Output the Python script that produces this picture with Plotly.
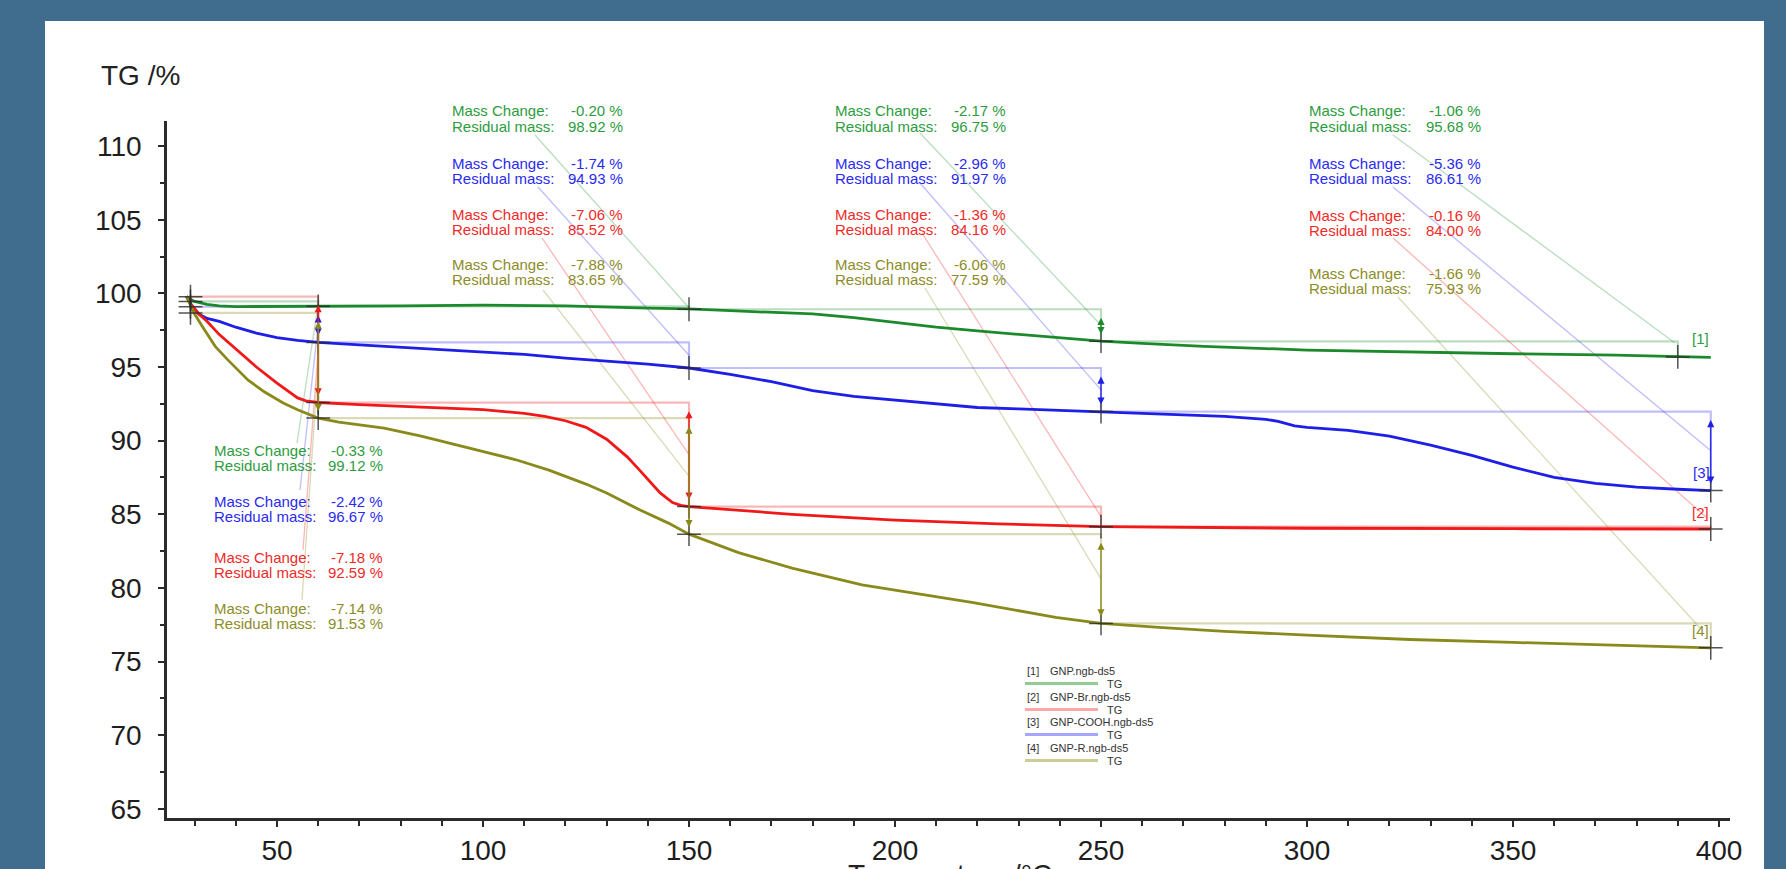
import plotly.graph_objects as go

# ---------------- data ----------------
green_T = [28, 30, 33, 36, 40, 50, 60, 80, 100, 120, 140, 150, 160, 170, 180, 190, 200, 210, 220, 230, 240, 250, 260, 275, 300, 325, 350, 375, 398]
green_TG = [99.75, 99.45, 99.25, 99.15, 99.1, 99.1, 99.12, 99.15, 99.2, 99.15, 99.0, 98.95, 98.82, 98.72, 98.6, 98.35, 98.0, 97.7, 97.45, 97.2, 96.95, 96.75, 96.6, 96.4, 96.15, 96.0, 95.9, 95.8, 95.65]

red_T = [28, 29, 31, 33, 36, 40, 45, 50, 55, 57, 60, 70, 80, 90, 100, 110, 115, 120, 125, 130, 135, 138, 140, 143, 146, 148, 150, 160, 175, 200, 225, 250, 275, 300, 350, 398]
red_TG = [99.8, 99.3, 98.6, 98.1, 97.2, 96.2, 95.0, 93.9, 92.9, 92.7, 92.59, 92.45, 92.35, 92.2, 92.1, 91.85, 91.65, 91.35, 90.9, 90.1, 88.9, 88.0, 87.4, 86.45, 85.8, 85.6, 85.52, 85.3, 85.0, 84.6, 84.35, 84.16, 84.1, 84.05, 84.02, 84.0]

blue_T = [28, 29, 31, 33, 36, 40, 45, 50, 55, 60, 70, 80, 90, 100, 110, 120, 130, 140, 150, 160, 170, 180, 190, 200, 210, 220, 230, 240, 250, 260, 270, 280, 290, 293, 297, 300, 310, 320, 330, 340, 350, 360, 370, 380, 390, 398]
blue_TG = [99.8, 99.3, 98.6, 98.3, 98.1, 97.7, 97.3, 97.0, 96.8, 96.67, 96.5, 96.35, 96.2, 96.05, 95.85, 95.6, 95.4, 95.2, 94.93, 94.5, 94.0, 93.4, 93.0, 92.75, 92.45, 92.25, 92.15, 92.05, 91.97, 91.9, 91.8, 91.65, 91.45, 91.3, 91.0, 90.9, 90.7, 90.3, 89.7, 89.0, 88.2, 87.5, 87.1, 86.85, 86.7, 86.61]

olive_T = [28, 30, 32, 35, 38, 43, 47, 51.5, 55, 58, 60, 65, 70, 76, 85, 92, 100, 108, 116, 125, 130, 138, 145, 150, 162, 175, 192, 205, 219, 239, 250, 265, 280, 300, 325, 350, 375, 398]
olive_TG = [99.8, 98.6, 97.7, 96.4, 95.5, 94.1, 93.3, 92.55, 92.1, 91.75, 91.53, 91.25, 91.05, 90.85, 90.3, 89.8, 89.25, 88.7, 88.0, 87.05, 86.45, 85.3, 84.4, 83.65, 82.4, 81.35, 80.2, 79.6, 79.0, 78.0, 77.59, 77.3, 77.05, 76.8, 76.5, 76.3, 76.1, 75.93]

# step evaluation (four temperature intervals)
step_start_T = [29, 60, 150, 250]
step_end_T = [60, 150, 250, 398]
green_step_end_T = [60, 150, 250, 390]

green_mass_change = [-0.33, -0.20, -2.17, -1.06]
green_residual = [99.12, 98.92, 96.75, 95.68]
blue_mass_change = [-2.42, -1.74, -2.96, -5.36]
blue_residual = [96.67, 94.93, 91.97, 86.61]
red_mass_change = [-7.18, -7.06, -1.36, -0.16]
red_residual = [92.59, 85.52, 84.16, 84.00]
olive_mass_change = [-7.14, -7.88, -6.06, -1.66]
olive_residual = [91.53, 83.65, 77.59, 75.93]

legend_ids = ["[1]", "[2]", "[3]", "[4]"]
legend_names = ["GNP.ngb-ds5", "GNP-Br.ngb-ds5", "GNP-COOH.ngb-ds5", "GNP-R.ngb-ds5"]

x_ticks = [50, 100, 150, 200, 250, 300, 350, 400]
y_ticks = [65, 70, 75, 80, 85, 90, 95, 100, 105, 110]

# ---------------- layout geometry ----------------
W, H = 1786, 869
PL, PR, PT, PB = 167, 1730, 121, 818
X0, X1 = 23.3, 402.67
Y0, Y1 = 64.38, 111.70
FONT = "Liberation Sans, Arial, sans-serif"


def px2x(px):
    return X0 + (px - PL) / (PR - PL) * (X1 - X0)


def py2y(py):
    return Y1 - (py - PT) / (PB - PT) * (Y1 - Y0)


def pxp(px):
    return (px - PL) / (PR - PL)


def pyp(py):
    return (PB - py) / (PB - PT)


series = [
    dict(T=green_T, TG=green_TG, mc=green_mass_change, res=green_residual, ends=green_step_end_T,
         col="#1c8a2c", tcol="#2d9c3e", light="rgba(40,150,60,0.32)", leg="rgba(120,190,120,0.8)"),
    dict(T=blue_T, TG=blue_TG, mc=blue_mass_change, res=blue_residual, ends=step_end_T,
         col="#1e1ee6", tcol="#2a2af0", light="rgba(40,40,240,0.30)", leg="rgba(150,150,255,0.85)"),
    dict(T=red_T, TG=red_TG, mc=red_mass_change, res=red_residual, ends=step_end_T,
         col="#f01818", tcol="#f02a2a", light="rgba(240,30,30,0.32)", leg="rgba(255,150,150,0.85)"),
    dict(T=olive_T, TG=olive_TG, mc=olive_mass_change, res=olive_residual, ends=step_end_T,
         col="#8a8a1c", tcol="#8c8c28", light="rgba(140,140,30,0.32)", leg="rgba(195,195,130,0.85)"),
]

# text block placement (pixels)
block_left = [212, 450, 833, 1307]
block_right = [385, 625, 1008, 1483]
block_y = [
    [450, 501, 557, 608],
    [111, 163, 214, 264],
    [111, 163, 214, 264],
    [111, 163, 215, 273],
]
line_gap = 15.5
leader_start = [
    [(297, 443), (300, 490), (303, 550), (302, 600)],
    [(535, 135), (538, 187), (542, 238), (543, 290)],
    [(920, 133), (920, 183), (922, 233), (925, 288)],
    [(1393, 135), (1393, 187), (1393, 238), (1398, 297)],
]
last_leader_end = [(1675, 343), (1710, 450), (1707, 518), (1700, 628)]
end_label_pos = [(1711, 338), (1711, 512), (1712, 472), (1711, 630)]  # [1],[2],[3],[4]

fig = go.Figure()
annotations = []
shapes = []

for si, s in enumerate(series):
    for k in range(4):
        start_val = round(s["res"][k] - s["mc"][k], 2)
        end_val = s["res"][k]
        xs, xe = step_start_T[k], s["ends"][k]
        fig.add_trace(go.Scatter(x=[xs, xe, xe], y=[start_val, start_val, end_val], mode="lines",
                                 line=dict(color=s["light"], width=2.2), hoverinfo="skip", showlegend=False))
        lx, ly = leader_start[k][si]
        if k < 3:
            ex, ey = xe, (start_val + end_val) / 2
        else:
            ex, ey = px2x(last_leader_end[si][0]), py2y(last_leader_end[si][1])
        fig.add_trace(go.Scatter(x=[px2x(lx), ex], y=[py2y(ly), ey], mode="lines",
                                 line=dict(color=s["light"], width=1.3), hoverinfo="skip", showlegend=False))
        if abs(s["mc"][k]) >= 2.0:
            annotations.append(dict(x=xe, y=end_val, ax=xe, ay=start_val, xref="x", yref="y",
                                    axref="x", ayref="y", text="", showarrow=True,
                                    arrowhead=2, startarrowhead=2, arrowside="end+start",
                                    arrowsize=1.1, arrowwidth=1.3, arrowcolor=s["col"],
                                    standoff=7, startstandoff=7))
        y1p = block_y[k][si]
        y2p = y1p + line_gap
        for yy, lab, val in [(y1p, "Mass Change:", f"{s['mc'][k]:.2f} %"),
                             (y2p, "Residual mass:", f"{s['res'][k]:.2f} %")]:
            annotations.append(dict(x=pxp(block_left[k]), y=pyp(yy), xref="paper", yref="paper",
                                    text=lab, showarrow=False, xanchor="left", yanchor="middle",
                                    font=dict(family=FONT, size=15, color=s["tcol"])))
            annotations.append(dict(x=pxp(block_right[k]), y=pyp(yy), xref="paper", yref="paper",
                                    text=val, showarrow=False, xanchor="right", yanchor="middle",
                                    font=dict(family=FONT, size=15, color=s["tcol"])))

for s in series:
    fig.add_trace(go.Scatter(x=s["T"], y=s["TG"], mode="lines",
                             line=dict(color=s["col"], width=2.8), hoverinfo="skip", showlegend=False))

cx, cy = [], []
for s in series:
    for k in range(4):
        if k == 0:
            cx.append(step_start_T[0])
            cy.append(round(s["res"][0] - s["mc"][0], 2))
        cx.append(s["ends"][k])
        cy.append(s["res"][k])
fig.add_trace(go.Scatter(x=cx, y=cy, mode="markers", hoverinfo="skip", showlegend=False,
                         marker=dict(symbol="cross-thin", size=17,
                                     line=dict(color="rgba(40,40,40,0.8)", width=1.5))))

label_series = [0, 2, 1, 3]
for j, (lx, ly) in enumerate(end_label_pos):
    s = series[label_series[j]]
    annotations.append(dict(x=pxp(lx), y=pyp(ly), xref="paper", yref="paper", text=legend_ids[j],
                            showarrow=False, xanchor="right", yanchor="middle",
                            font=dict(family=FONT, size=15, color=s["tcol"])))

leg_x = 1025
leg_rows = [671, 697, 722, 748]
leg_series = [0, 2, 1, 3]
for j in range(4):
    ry = leg_rows[j]
    annotations.append(dict(x=pxp(leg_x), y=pyp(ry), xref="paper", yref="paper", text=legend_ids[j],
                            showarrow=False, xanchor="left", yanchor="middle",
                            font=dict(family=FONT, size=11, color="#333")))
    annotations.append(dict(x=pxp(leg_x + 23), y=pyp(ry), xref="paper", yref="paper",
                            text=legend_names[j], showarrow=False, xanchor="left", yanchor="middle",
                            font=dict(family=FONT, size=11, color="#333")))
    shapes.append(dict(type="line", xref="paper", yref="paper", x0=pxp(leg_x), x1=pxp(leg_x + 73),
                       y0=pyp(ry + 12.5), y1=pyp(ry + 12.5),
                       line=dict(color=series[leg_series[j]]["leg"], width=3)))
    annotations.append(dict(x=pxp(leg_x + 80), y=pyp(ry + 13), xref="paper", yref="paper", text="TG",
                            showarrow=False, xanchor="left", yanchor="middle",
                            font=dict(family=FONT, size=11, color="#333")))

annotations.append(dict(x=pxp(140), y=pyp(75), xref="paper", yref="paper", text="TG /%",
                        showarrow=False, xanchor="center", yanchor="middle",
                        font=dict(family=FONT, size=28, color="#222")))
annotations.append(dict(x=pxp(950), y=pyp(857), xref="paper", yref="paper", text="Temperature /°C",
                        showarrow=False, xanchor="center", yanchor="top",
                        font=dict(family=FONT, size=28, color="#222")))

shapes.append(dict(type="rect", xref="paper", yref="paper", layer="below",
                   x0=pxp(45), x1=pxp(1764), y0=pyp(900), y1=pyp(21),
                   fillcolor="white", line=dict(width=0)))

axis_common = dict(showgrid=False, zeroline=False, showline=True, linewidth=2.5, linecolor="#2b2b2b",
                   ticks="outside", ticklen=6, tickwidth=2, tickcolor="#2b2b2b",
                   tickfont=dict(family=FONT, size=28, color="#1e1e1e"))

fig.update_layout(
    width=W, height=H,
    margin=dict(l=PL, r=W - PR, t=PT, b=H - PB, autoexpand=False),
    paper_bgcolor="#406c8e", plot_bgcolor="white",
    showlegend=False,
    xaxis=dict(range=[X0, X1], tickmode="array", tickvals=x_ticks, ticklabelstandoff=0,
               minor=dict(dtick=10, tick0=0, ticks="outside", ticklen=5, tickwidth=2, tickcolor="#2b2b2b"),
               **axis_common),
    yaxis=dict(range=[Y0, Y1], tickmode="array", tickvals=y_ticks, ticklabelstandoff=11,
               minor=dict(dtick=2.5, tick0=0, ticks="outside", ticklen=4, tickwidth=2, tickcolor="#2b2b2b"),
               **axis_common),
    annotations=annotations,
    shapes=shapes,
)

fig.write_html("out.html")
